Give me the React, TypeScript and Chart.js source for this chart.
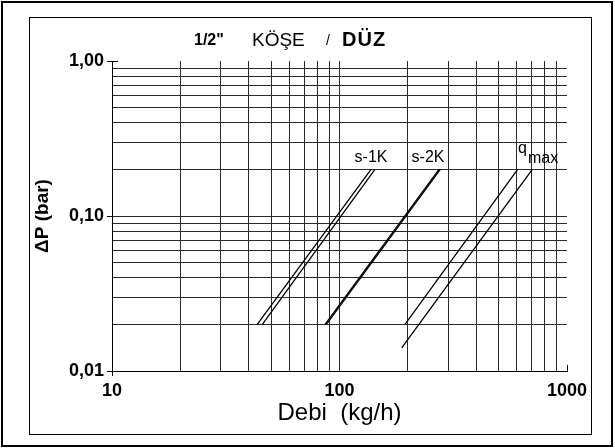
import React, { useEffect, useRef } from 'react';
import { Chart, registerables } from 'chart.js';

Chart.register(...registerables);

// ---- axis grid / tick values ----
const xGridValues = [10, 20, 30, 40, 50, 60, 70, 80, 90, 100, 200, 300, 400, 500, 600, 700, 800, 900, 1000];
const yGridValues = [0.01, 0.02, 0.03, 0.04, 0.05, 0.06, 0.07, 0.08, 0.09, 0.1, 0.2, 0.3, 0.4, 0.5, 0.6, 0.7, 0.8, 0.9, 1];
const xLabelValues = [10, 100, 1000];
const xLabelTexts = ['10', '100', '1000'];
const yLabelValues = [0.01, 0.1, 1];
const yLabelTexts = ['0,01', '0,10', '1,00'];

// ---- curves (Debi kg/h vs ΔP bar) ----
const s1kA_Q = [43.5, 137.6];
const s1kA_dP = [0.02, 0.2];
const s1kB_Q = [45.8, 143.2];
const s1kB_dP = [0.02, 0.2];
const s2kA_Q = [86.4, 273.8];
const s2kA_dP = [0.02, 0.2];
const s2kB_Q = [87.6, 277.5];
const s2kB_dP = [0.02, 0.2];
const qmaxA_Q = [194, 607];
const qmaxA_dP = [0.02, 0.2];
const qmaxB_Q = [187.7, 704];
const qmaxB_dP = [0.0141, 0.2];

// ---- curve labels ----
const curveLabelTexts = ['s-1K', 's-2K'];
const curveLabelQ = [137.6, 245];
const curveLabelDP = [0.237, 0.237];
const qmaxLabelQ = 609;
const qmaxLabelDP = 0.255;

const titleParts = ['1/2"', 'KÖŞE', '/', 'DÜZ'];
const xTitle = 'Debi  (kg/h)';
const yTitle = 'ΔP (bar)';

const FONT = '"Liberation Sans", Arial, sans-serif';

function pts(q: number[], dp: number[]) {
  return q.map((v, i) => ({ x: v, y: dp[i] }));
}

const framePlugin = {
  id: 'frame',
  afterDraw(chart: any) {
    const ctx = chart.ctx;
    const xs = chart.scales.x;
    const ys = chart.scales.y;
    ctx.save();
    // outer and inner frames
    ctx.strokeStyle = '#000';
    ctx.lineWidth = 2;
    ctx.strokeRect(2, 2, 610, 444);
    ctx.lineWidth = 1;
    ctx.strokeRect(29.5, 17.5, 562, 417);

    // small tick marks at the far ends
    const x1000 = Math.round(xs.getPixelForValue(1000)) + 0.5;
    const yBottom = Math.round(ys.getPixelForValue(0.01));
    ctx.beginPath();
    ctx.moveTo(x1000, yBottom);
    ctx.lineTo(x1000, yBottom - 6);
    const yTop = Math.round(ys.getPixelForValue(1)) + 0.5;
    const xLeft = Math.round(xs.getPixelForValue(10));
    ctx.moveTo(xLeft, yTop);
    ctx.lineTo(xLeft + 6, yTop);
    ctx.stroke();

    // title
    ctx.fillStyle = '#000';
    ctx.textBaseline = 'alphabetic';
    ctx.textAlign = 'left';
    ctx.font = `bold 16px ${FONT}`;
    ctx.fillText(titleParts[0], 194, 45);
    ctx.font = `19px ${FONT}`;
    ctx.fillText(titleParts[1], 252, 46);
    ctx.font = `14px ${FONT}`;
    ctx.fillText(titleParts[2], 326, 45);
    ctx.font = `bold 20px ${FONT}`;
    try { (ctx as any).letterSpacing = '1px'; } catch (e) {}
    ctx.fillText(titleParts[3], 342, 46);
    try { (ctx as any).letterSpacing = '0px'; } catch (e) {}

    // curve labels
    ctx.font = `16px ${FONT}`;
    ctx.textAlign = 'center';
    ctx.textBaseline = 'middle';
    curveLabelTexts.forEach((t, i) => {
      ctx.fillText(t, xs.getPixelForValue(curveLabelQ[i]), ys.getPixelForValue(curveLabelDP[i]));
    });
    ctx.textAlign = 'left';
    ctx.textBaseline = 'alphabetic';
    const qx = xs.getPixelForValue(qmaxLabelQ);
    const qy = ys.getPixelForValue(qmaxLabelDP);
    ctx.fillText('q', qx, qy);
    ctx.fillText('max', qx + 10, qy + 10);
    ctx.restore();
  },
};

export default function App() {
  const ref = useRef<HTMLCanvasElement | null>(null);
  useEffect(() => {
    if (!ref.current) return;
    const lineDs = (label: string, q: number[], dp: number[], w = 1.3) => ({
      label,
      data: pts(q, dp),
      borderColor: '#000',
      backgroundColor: '#000',
      borderWidth: w,
      pointRadius: 0,
      fill: false,
      tension: 0,
    });
    const chart = new Chart(ref.current, {
      type: 'line',
      data: {
        datasets: [
          lineDs('s-1K a', s1kA_Q, s1kA_dP),
          lineDs('s-1K b', s1kB_Q, s1kB_dP),
          lineDs('s-2K a', s2kA_Q, s2kA_dP),
          lineDs('s-2K b', s2kB_Q, s2kB_dP),
          lineDs('qmax a', qmaxA_Q, qmaxA_dP),
          lineDs('qmax b', qmaxB_Q, qmaxB_dP),
        ],
      },
      options: {
        responsive: false,
        devicePixelRatio: 1,
        animation: false,
        layout: { padding: { top: 61, right: 48, bottom: 0, left: 0 } },
        plugins: {
          legend: { display: false },
          tooltip: { enabled: false },
          title: { display: false },
        },
        scales: {
          x: {
            type: 'logarithmic',
            min: 10,
            max: 1000,
            afterBuildTicks: (s: any) => {
              s.ticks = xGridValues.map((v) => ({ value: v }));
            },
            afterFit: (s: any) => {
              s.height = 77;
            },
            ticks: {
              autoSkip: false,
              maxRotation: 0,
              minRotation: 0,
              padding: 4,
              color: '#000',
              font: { family: FONT, size: 18, weight: 'bold' },
              callback: (v: any) => {
                const i = xLabelValues.indexOf(Number(v));
                return i >= 0 ? xLabelTexts[i] : '';
              },
            },
            grid: {
              color: (c: any) => (c.tick && c.tick.value === 1000 ? 'rgba(0,0,0,0)' : '#2a2a2a'),
              tickColor: (c: any) => (c.tick && c.tick.value === 10 ? '#000' : 'rgba(0,0,0,0)'),
              tickLength: 5,
              lineWidth: 1,
            },
            border: { display: true, color: '#000', width: 1 },
            title: {
              display: true,
              text: xTitle,
              color: '#000',
              font: { family: FONT, size: 24, weight: 'normal' },
              padding: { top: 0, bottom: 20 },
            },
          },
          y: {
            type: 'logarithmic',
            min: 0.01,
            max: 1,
            afterBuildTicks: (s: any) => {
              s.ticks = yGridValues.map((v) => ({ value: v }));
            },
            afterFit: (s: any) => {
              s.width = 112;
            },
            ticks: {
              autoSkip: false,
              padding: 3,
              color: '#000',
              font: { family: FONT, size: 18, weight: 'bold' },
              callback: (v: any) => {
                const i = yLabelValues.findIndex((u) => Math.abs(u - Number(v)) < 1e-9);
                return i >= 0 ? yLabelTexts[i] : '';
              },
            },
            grid: {
              color: (c: any) => (c.tick && Math.abs(c.tick.value - 1) < 1e-9 ? 'rgba(0,0,0,0)' : '#2a2a2a'),
              tickColor: (c: any) =>
                c.tick && yLabelValues.some((u) => Math.abs(u - c.tick.value) < 1e-9) ? '#000' : 'rgba(0,0,0,0)',
              tickLength: 5,
              lineWidth: 1,
            },
            border: { display: true, color: '#000', width: 1 },
            title: {
              display: true,
              text: yTitle,
              color: '#000',
              font: { family: FONT, size: 19, weight: 'bold' },
              padding: { top: 31, bottom: 0 },
            },
          },
        },
      } as any,
      plugins: [framePlugin],
    });
    return () => chart.destroy();
  }, []);
  return (
    <div style={{ position: 'absolute', left: 0, top: 0, width: 615, height: 448, background: '#fff' }}>
      <canvas ref={ref} width={615} height={448} style={{ width: 615, height: 448, display: 'block' }} />
    </div>
  );
}
